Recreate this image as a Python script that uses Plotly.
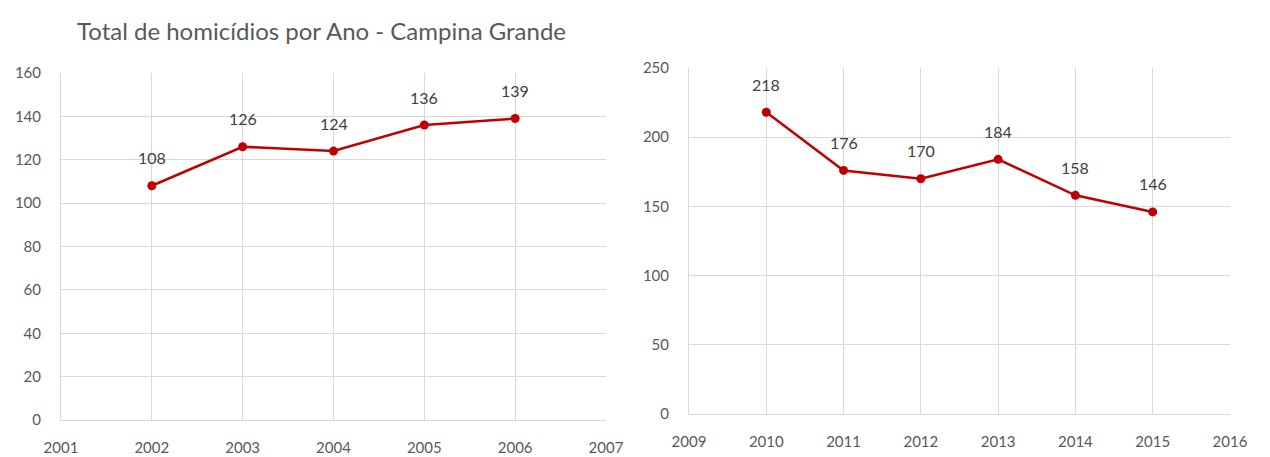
import plotly.graph_objects as go

# Homicide totals, Campina Grande
anos_a = [2002, 2003, 2004, 2005, 2006]
total_a = [108, 126, 124, 136, 139]

anos_b = [2010, 2011, 2012, 2013, 2014, 2015]
total_b = [218, 176, 170, 184, 158, 146]

titulo = "Total de homicídios por Ano - Campina Grande"

VERMELHO = "#C00000"
CINZA_TXT = "#595959"
CINZA_GRADE = "#D9D9D9"
FONTE = "Lato, 'Open Sans', sans-serif"

fig = go.Figure()

fig.add_trace(go.Scatter(
    x=anos_a, y=total_a, mode="lines+markers",
    line=dict(color=VERMELHO, width=2.5),
    marker=dict(color=VERMELHO, size=9),
    xaxis="x", yaxis="y", showlegend=False, hoverinfo="x+y",
))
fig.add_trace(go.Scatter(
    x=anos_b, y=total_b, mode="lines+markers",
    line=dict(color=VERMELHO, width=2.5),
    marker=dict(color=VERMELHO, size=9),
    xaxis="x2", yaxis="y2", showlegend=False, hoverinfo="x+y",
))

anotacoes = []
for xs, ys, xr, yr in [(anos_a, total_a, "x", "y"), (anos_b, total_b, "x2", "y2")]:
    for xv, yv in zip(xs, ys):
        anotacoes.append(dict(
            x=xv, y=yv, xref=xr, yref=yr, text=str(yv), showarrow=False,
            yshift=28, font=dict(family=FONTE, size=16, color="#404040"),
        ))

anotacoes.append(dict(
    x=321 / 1270, y=1 - 30 / 457, xref="paper", yref="paper", text=titulo,
    showarrow=False, xanchor="center", yanchor="middle",
    font=dict(family=FONTE, size=24, color=CINZA_TXT),
))

eixo = dict(
    showgrid=True, gridcolor=CINZA_GRADE, gridwidth=1,
    showline=True, linecolor=CINZA_GRADE, linewidth=1,
    zeroline=False, ticks="", automargin=False,
    tickfont=dict(family=FONTE, size=15, color=CINZA_TXT),
)

fig.update_layout(
    width=1270, height=457,
    margin=dict(l=0, r=0, t=0, b=0),
    paper_bgcolor="white", plot_bgcolor="white",
    annotations=anotacoes,
    xaxis=dict(eixo, domain=[61 / 1270, 606 / 1270], range=[2001, 2007],
               dtick=1, tick0=2001, anchor="y", ticklabelstandoff=14),
    yaxis=dict(eixo, domain=[1 - 420 / 457, 1 - 73 / 457], range=[0, 160],
               dtick=20, anchor="x", ticklabelstandoff=16),
    xaxis2=dict(eixo, domain=[689 / 1270, 1230 / 1270], range=[2009, 2016],
                dtick=1, tick0=2009, anchor="y2", ticklabelstandoff=14),
    yaxis2=dict(eixo, domain=[1 - 414 / 457, 1 - 68 / 457], range=[0, 250],
                dtick=50, anchor="x2", ticklabelstandoff=16),
)

fig.write_html("out.html")
